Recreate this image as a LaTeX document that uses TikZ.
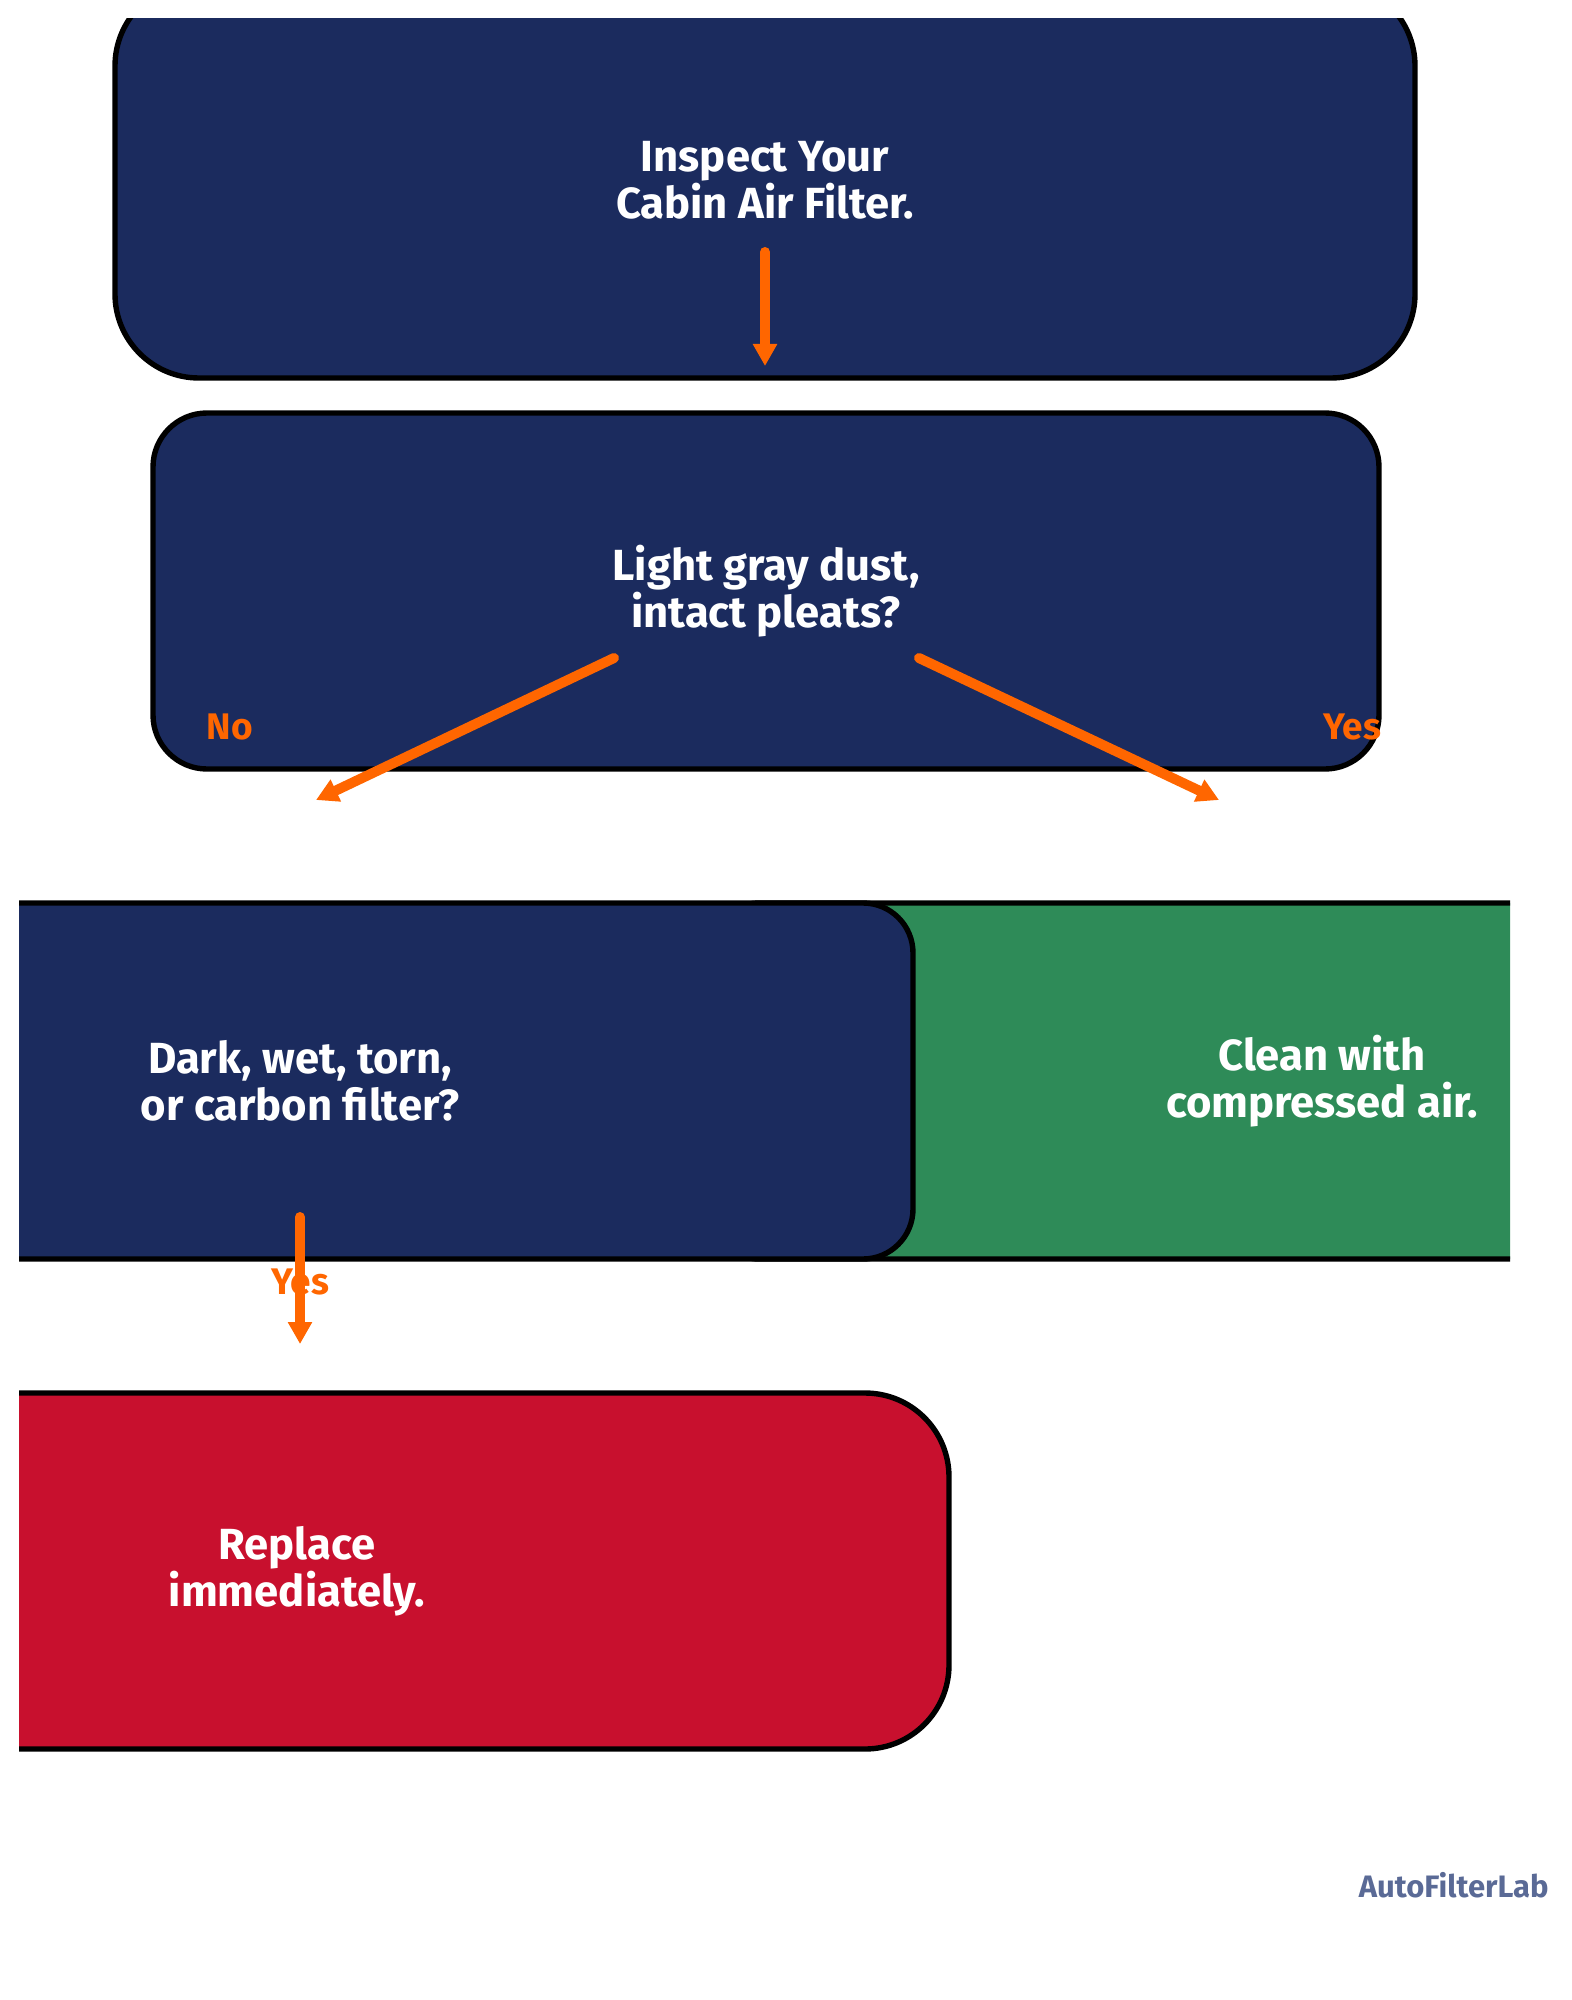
\documentclass[tikz,border=0pt]{standalone}
\usepackage{fontspec}
\setmainfont{Fira Sans}
\usetikzlibrary{arrows.meta}

\definecolor{navy}{RGB}{27,43,94}
\definecolor{okgreen}{RGB}{46,139,88}
\definecolor{alertred}{RGB}{200,16,46}
\definecolor{floworange}{RGB}{255,102,0}
\definecolor{brandgray}{RGB}{90,106,150}

\begin{document}
\begin{tikzpicture}[x=0.5pt,y=-0.5pt]
\tikzset{
  box/.style={rectangle, draw=black, line width=2.7pt, text=white, align=center,
    font=\bfseries\fontsize{21.8}{23.5}\selectfont, inner sep=0pt,
    minimum width=613pt, minimum height=178pt},
  question/.style={box, fill=navy, rounded corners=27pt},
  start/.style={box, fill=navy, rounded corners=42pt, minimum width=650pt, minimum height=198pt},
  action/.style={box, fill=okgreen, rounded corners=25pt},
  stop/.style={box, fill=alertred, rounded corners=42pt, minimum width=652pt, minimum height=178pt},
  flow/.style={-{Triangle[length=11pt,width=11.5pt]}, line width=5pt, draw=floworange, line cap=round},
  answer/.style={font=\bfseries\fontsize{18.5}{20}\selectfont, text=floworange, inner sep=0pt},
  brand/.style={font=\bfseries\fontsize{15.5}{17}\selectfont, text=brandgray, inner sep=0pt}
}

\useasboundingbox (0,0) rectangle (1571,2000);

\begin{scope}
\clip (19,19) rectangle (1510,1800);

\node[start] (inspect) at (765,180) {Inspect Your\\Cabin Air Filter.};
\node[question] (light) at (766,591) {Light gray dust,\\intact pleats?};
\node[action] (clean) at (1322,1081) {Clean with\\compressed air.};
\node[question, rounded corners=25pt] (dark) at (300,1081) {Dark, wet, torn,\\or carbon filter?};
\node[stop] (replace) at (297,1571) {Replace\\immediately.};

% arrow ends
\coordinate (inspect-out) at (765,252);
\coordinate (light-in) at (765,366);
\coordinate (no-out) at (614,658);
\coordinate (dark-in) at (316,800);
\coordinate (yes-out) at (919,658);
\coordinate (clean-in) at (1219,800);
\coordinate (dark-out) at (300,1217);
\coordinate (replace-in) at (300,1344);

\node[answer] (no) at (230,727) {No};
\node[answer] (yes) at (1352,727) {Yes};
\node[answer] (yes2) at (300,1282) {Yes};

\draw[flow] (inspect-out) -- (light-in);
\draw[flow] (no-out) -- (dark-in);
\draw[flow] (yes-out) -- (clean-in);
\draw[flow] (dark-out) -- (replace-in);
\end{scope}

\node[brand, anchor=base east] (logo) at (1549,1897) {AutoFilterLab};
\end{tikzpicture}
\end{document}
